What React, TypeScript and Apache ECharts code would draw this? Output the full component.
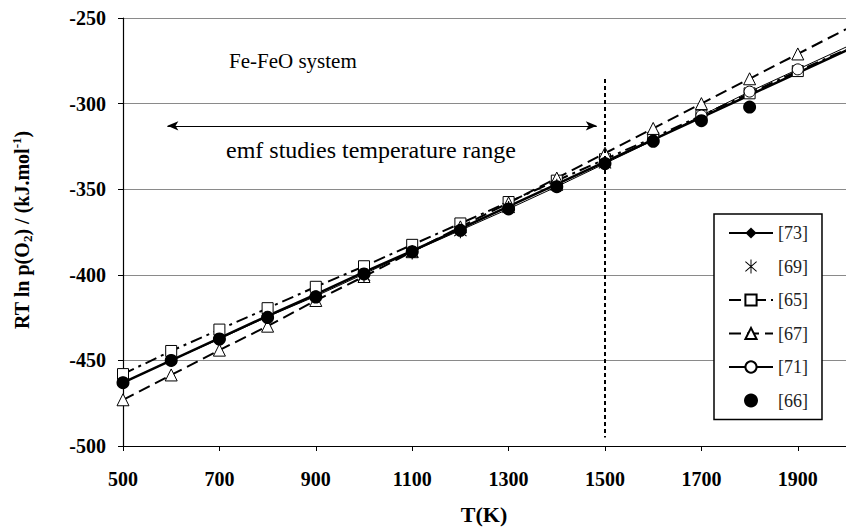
import React, { useEffect, useRef } from "react";
import * as echarts from "echarts";

// Temperatures (K)
const temps = [500, 600, 700, 800, 900, 1000, 1100, 1200, 1300, 1400, 1500, 1600, 1700, 1800, 1900, 2000];
const xTickLabels = [500, 700, 900, 1100, 1300, 1500, 1700, 1900];

// RT ln p(O2) values (kJ/mol)
const ref73 = [-463, -450, -437, -424, -411.5, -398.5, -386, -373, -360, -347, -334, -321, -308, -295, -282, -269];
const ref69T = [1000, 1100, 1200, 1300, 1400, 1500];
const ref69 = [-400.5, -387, -374.5, -361, -348, -335];
const ref65 = [-458, -444.5, -432, -419.5, -407, -395, -382.5, -370, -357.5, -345, -332.5, -320, -307, -294, -281, -268.5];
const ref67 = [-473, -458.5, -444, -430, -415, -401, -386.5, -372, -358, -343.5, -329, -314.5, -300, -285.5, -271, -256.5];
const ref71 = [-463, -450, -437.5, -424.5, -412.5, -399.5, -386.5, -374, -361.5, -348.5, -335, -321.5, -307, -293, -280, -267];
const ref66T = [500, 600, 700, 800, 900, 1000, 1100, 1200, 1300, 1400, 1500, 1600, 1700, 1800];
const ref66 = [-463, -450, -437.5, -425, -413, -399.5, -386.5, -374, -361.5, -348.5, -335, -322, -310, -302];

const SERIF = "'Liberation Serif', 'Times New Roman', serif";
const ASTERISK =
  "path://M9.3 0L10.7 0L10.7 20L9.3 20ZM2.46 2.47L18.46 16.47L17.54 17.53L1.54 3.53ZM18.46 3.53L2.46 17.53L1.54 16.47L17.54 2.47Z";

function lineData(vals: number[], lastMarkerT: number) {
  return temps.map((t, i) =>
    t > lastMarkerT ? { value: [t, vals[i]], symbol: "none" } : { value: [t, vals[i]] }
  );
}

export default function App() {
  const ref = useRef<HTMLDivElement>(null);
  useEffect(() => {
    if (!ref.current) return;
    const chart = echarts.init(ref.current, null, { renderer: "svg" });
    const hollow = { color: "#fff", borderColor: "#000", borderWidth: 1, opacity: 1 };
    chart.setOption({
      animation: false,
      backgroundColor: "#fff",
      grid: { left: 123, top: 18, bottom: 86, right: -6 },
      xAxis: {
        type: "value",
        min: 500,
        max: 2000,
        splitLine: { show: false },
        axisLine: { lineStyle: { color: "#000", width: 1.2 } },
        axisTick: { customValues: xTickLabels, length: 5, lineStyle: { color: "#000" } },
        axisLabel: {
          customValues: xTickLabels,
          formatter: (v: number) => String(v),
          margin: 23,
          fontFamily: SERIF,
          fontWeight: "bold",
          fontSize: 20,
          color: "#000",
        },
      },
      yAxis: {
        type: "value",
        min: -500,
        max: -250,
        interval: 50,
        splitLine: { show: true, lineStyle: { color: "#8a8a8a", width: 1 } },
        axisLine: { show: true, lineStyle: { color: "#000", width: 1.2 } },
        axisTick: { show: true, length: 5, lineStyle: { color: "#000" } },
        axisLabel: {
          margin: 17,
          formatter: (v: number) => String(v),
          fontFamily: SERIF,
          fontWeight: "bold",
          fontSize: 20,
          color: "#000",
        },
      },
      legend: {
        orient: "vertical",
        left: 714,
        top: 214,
        padding: [10, 14, 10, 14],
        itemWidth: 44,
        itemHeight: 14,
        itemGap: 15.5,
        borderColor: "#000",
        borderWidth: 1.5,
        backgroundColor: "#fff",
        textStyle: { fontFamily: SERIF, fontSize: 18, lineHeight: 16, color: "#222" },
        data: ["[73]", "[69]", "[65]", "[67]", "[71]", "[66]"],
      },
      graphic: [
        {
          type: "text",
          left: 229,
          top: 50,
          style: { text: "Fe-FeO system", font: `21px ${SERIF}`, fill: "#000" },
        },
        {
          type: "text",
          left: 226,
          top: 138,
          style: { text: "emf studies temperature range", font: `24px ${SERIF}`, fill: "#000" },
        },
        {
          type: "text",
          x: 22,
          y: 230,
          rotation: Math.PI / 2,
          style: {
            text: "{a|RT ln p(O}{s|2}{a|) / (kJ.mol}{p|-1}{a|)}",
            align: "center",
            verticalAlign: "middle",
            rich: {
              a: { fontFamily: SERIF, fontWeight: "bold", fontSize: 20, lineHeight: 24, verticalAlign: "middle" },
              s: { fontFamily: SERIF, fontWeight: "bold", fontSize: 13, lineHeight: 24, verticalAlign: "bottom", padding: [9, 0, 0, 0] },
              p: { fontFamily: SERIF, fontWeight: "bold", fontSize: 13, lineHeight: 24, verticalAlign: "top", padding: [0, 0, 9, 0] },
            },
            fill: "#000",
          },
        },
        {
          type: "text",
          x: 484,
          y: 514,
          style: {
            text: "T(K)",
            align: "center",
            verticalAlign: "middle",
            font: `bold 22px ${SERIF}`,
            fill: "#000",
          },
        },
      ],
      series: [
        {
          name: "[73]",
          type: "line",
          data: lineData(ref73, 1700),
          symbol: "diamond",
          symbolSize: 11,
          itemStyle: { color: "#000" },
          lineStyle: { color: "#000", width: 2.5 },
          markLine: {
            silent: true,
            label: { show: false },
            data: [
              [
                { coord: [592, -313], symbol: "arrow", symbolSize: [7, 11], lineStyle: { color: "#000", width: 1, type: "solid" } },
                { coord: [1483, -313], symbol: "arrow", symbolSize: [7, 11] },
              ],
              [
                { coord: [1500, -285.6], symbol: "none", lineStyle: { color: "#000", width: 2, type: [4, 3] } },
                { coord: [1500, -495], symbol: "none" },
              ],
            ],
          },
        },
        {
          name: "[69]",
          type: "scatter",
          z: 4,
          data: ref69T.map((t, i) => [t, ref69[i]]),
          symbol: ASTERISK,
          symbolSize: [13, 14],
          itemStyle: { color: "#000", opacity: 1 },
        },
        {
          name: "[65]",
          type: "line",
          data: lineData(ref65, 1900),
          symbol: "rect",
          symbolSize: 11,
          itemStyle: hollow,
          lineStyle: { color: "#000", width: 2, type: [12, 5, 3, 5] },
        },
        {
          name: "[67]",
          type: "line",
          data: lineData(ref67, 1900),
          symbol: "triangle",
          symbolSize: 12,
          itemStyle: hollow,
          lineStyle: { color: "#000", width: 2, type: [12, 6] },
        },
        {
          name: "[71]",
          type: "line",
          data: lineData(ref71, 1900),
          symbol: "circle",
          symbolSize: 11,
          itemStyle: hollow,
          lineStyle: { color: "#000", width: 1 },
        },
        {
          name: "[66]",
          type: "scatter",
          z: 5,
          data: ref66T.map((t, i) => [t, ref66[i]]),
          symbol: "circle",
          symbolSize: 13,
          itemStyle: { color: "#000", opacity: 1 },
        },
      ],
    });
    return () => chart.dispose();
  }, []);
  return <div ref={ref} style={{ width: 846, height: 532, position: "absolute", left: 0, top: 0 }} />;
}
